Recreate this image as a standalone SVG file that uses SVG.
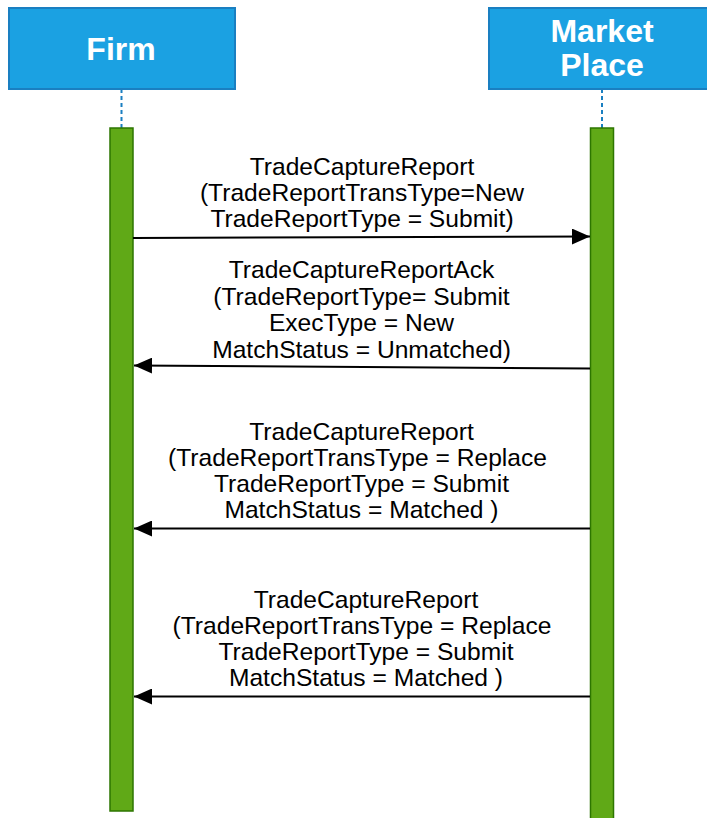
<svg xmlns="http://www.w3.org/2000/svg" width="707" height="818" viewBox="0 0 707 818">
  <style>
    .actor { fill: #1ba1e2; stroke: #1a7fc1; stroke-width: 2; }
    .actor-label { font-family: "Liberation Sans", Arial, sans-serif; font-size: 32px; font-weight: bold; fill: #ffffff; text-anchor: middle; }
    .lifeline { stroke: #1a7fc1; stroke-width: 2; stroke-dasharray: 4 3; fill: none; }
    .activation { fill: #60a917; stroke: #2d7600; stroke-width: 1.5; }
    .msg { stroke: #000000; stroke-width: 2; fill: none; marker-end: url(#block); }
    .msg-label { font-family: "Liberation Sans", Arial, sans-serif; font-size: 24.6px; fill: #000000; text-anchor: middle; }
  </style>
  <defs>
    <marker id="block" markerUnits="userSpaceOnUse" markerWidth="18" markerHeight="16" refX="18" refY="8" orient="auto">
      <path d="M0,0 L18,8 L0,16 Z" fill="#000000"/>
    </marker>
  </defs>

  <rect width="707" height="818" fill="#ffffff"/>

  <!-- Participants -->
  <g id="firm">
    <rect class="actor" x="9" y="8" width="226" height="81"/>
    <text class="actor-label" x="121" y="60">Firm</text>
    <line class="lifeline" x1="121.5" y1="89" x2="121.5" y2="128"/>
    <rect class="activation" x="110" y="128" width="23" height="683"/>
  </g>

  <g id="market-place">
    <rect class="actor" x="489" y="8" width="226" height="81"/>
    <text class="actor-label" x="602" y="42">Market</text>
    <text class="actor-label" x="602" y="76">Place</text>
    <line class="lifeline" x1="602" y1="89" x2="602" y2="128"/>
    <rect class="activation" x="590.5" y="128" width="23" height="695"/>
  </g>

  <!-- Messages -->
  <g id="connectors">
    <path class="msg" d="M133,238 L590,236.5"/>
    <path class="msg" d="M590,368.5 L134,365.5"/>
    <path class="msg" d="M590,528.5 L134,528.5"/>
    <path class="msg" d="M590,696.5 L134,696.5"/>
  </g>

  <!-- Message labels -->
  <g id="label-submit">
    <text class="msg-label" x="362" y="175">TradeCaptureReport</text>
    <text class="msg-label" x="362" y="201">(TradeReportTransType=New</text>
    <text class="msg-label" x="362" y="227">TradeReportType = Submit)</text>
  </g>

  <g id="label-ack">
    <text class="msg-label" x="361.5" y="278">TradeCaptureReportAck</text>
    <text class="msg-label" x="361.5" y="305">(TradeReportType= Submit</text>
    <text class="msg-label" x="361.5" y="331">ExecType = New</text>
    <text class="msg-label" x="361.5" y="358">MatchStatus = Unmatched)</text>
  </g>

  <g id="label-replace-1">
    <text class="msg-label" x="361.5" y="440">TradeCaptureReport</text>
    <text class="msg-label" x="357.5" y="466">(TradeReportTransType = Replace</text>
    <text class="msg-label" x="361.5" y="492">TradeReportType = Submit</text>
    <text class="msg-label" x="361.5" y="518">MatchStatus = Matched )</text>
  </g>

  <g id="label-replace-2">
    <text class="msg-label" x="366" y="608">TradeCaptureReport</text>
    <text class="msg-label" x="362" y="634">(TradeReportTransType = Replace</text>
    <text class="msg-label" x="366" y="660">TradeReportType = Submit</text>
    <text class="msg-label" x="366" y="686">MatchStatus = Matched )</text>
  </g>
</svg>
